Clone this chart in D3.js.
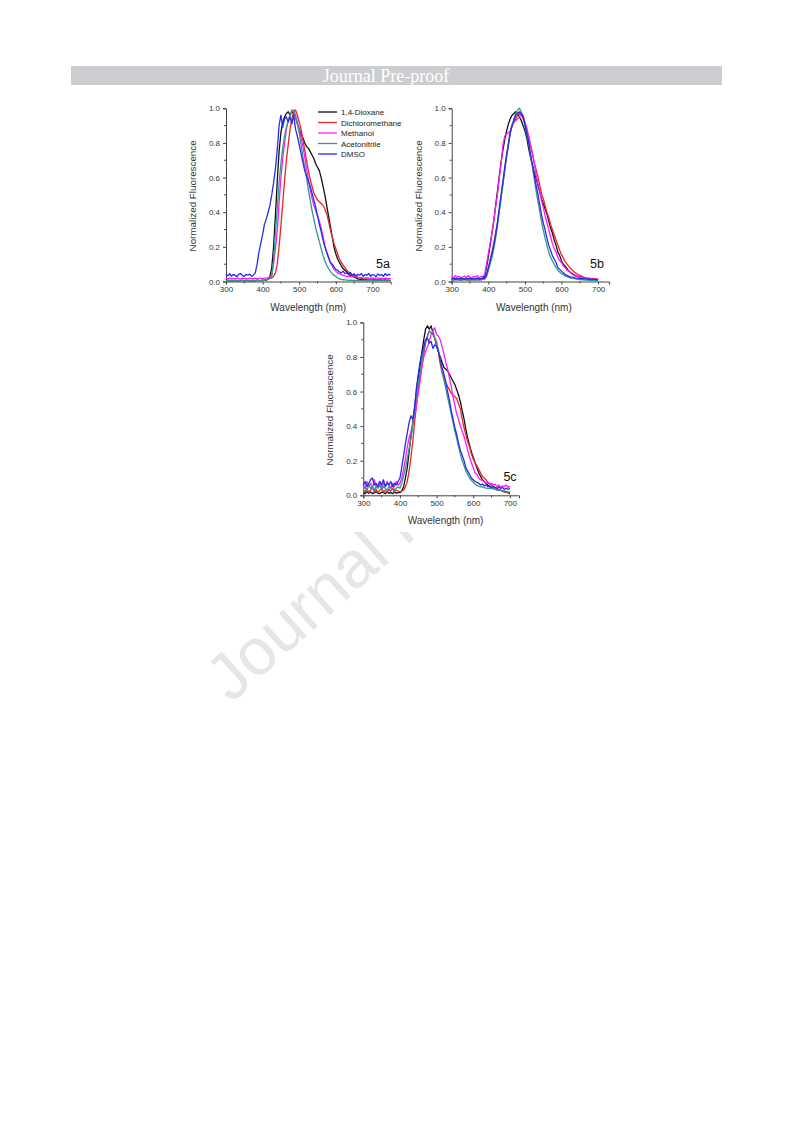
<!DOCTYPE html>
<html><head><meta charset="utf-8">
<script src="https://cdn.jsdelivr.net/npm/d3@7/dist/d3.min.js"></script>
<style>body{margin:0;background:#fff}svg{display:block}</style>
</head><body>
<svg id="c" width="793" height="1123"></svg>
<script>
// ---------------- DATA ----------------
const solvents = ["1,4-Dioxane","Dichloromethane","Methanol","Acetonitrile","DMSO"];
const panelLabels = ["5a","5b","5c"];
const xTicks = [300,400,500,600,700];
const yTicks = [0.0,0.2,0.4,0.6,0.8,1.0];
const xTitle = "Wavelength (nm)";
const yTitle = "Normalized Fluorescence";
const headerText = "Journal Pre-proof";

const wlA = d3.range(300, 755, 5);   // 300..750 nm
const wlBC = d3.range(300, 705, 5);  // 300..700 nm

// Panel 5a
const a_dioxane = [0.005,0.008,0.004,0.006,0.005,0.007,0.004,0.006,0.005,0.008,0.004,0.006,0.005,0.007,0.004,0.006,0.005,0.008,0.006,0.005,0.007,0.006,0.008,0.012,
 0.03,0.08,0.2,0.38,0.58,0.75,0.86,0.92,0.95,0.97,0.98,0.96,0.98,0.97,0.95,0.91,0.88,0.85,0.83,0.8,0.78,0.77,0.75,0.73,0.71,0.68,0.66,0.64,0.6,0.55,0.5,0.44,0.38,0.32,0.26,0.2,0.16,0.13,0.11,0.09,0.075,0.065,0.055,0.045,0.035,0.03,0.025,0.02,0.015,
 0.012,0.01,0.011,0.009,0.01,0.008,0.01,0.009,0.008,0.01,0.007,0.009,0.008,0.007,0.009,0.006,0.008,0.007];
const a_dcm = [0.005,0.004,0.006,0.005,0.004,0.006,0.005,0.004,0.006,0.005,0.004,0.006,0.005,0.004,0.006,0.005,0.004,0.006,0.005,0.006,0.008,0.01,0.012,0.015,0.018,0.02,
 0.03,0.05,0.1,0.2,0.32,0.45,0.58,0.7,0.79,0.88,0.94,0.98,0.99,0.96,0.92,0.88,0.82,0.76,0.7,0.64,0.59,0.55,0.51,0.49,0.47,0.46,0.45,0.44,0.42,0.39,0.35,0.3,0.26,0.22,0.19,0.16,0.13,0.11,0.095,0.08,0.065,0.055,0.047,0.04,0.035,0.03,0.025,0.02,
 0.018,0.015,0.016,0.014,0.015,0.013,0.012,0.013,0.011,0.01,0.011,0.009,0.008,0.009,0.007,0.006,0.005];
const a_methanol = [0.018,0.015,0.02,0.016,0.018,0.014,0.02,0.017,0.015,0.019,0.016,0.018,0.015,0.02,0.017,0.016,0.019,0.015,0.018,0.02,0.017,0.019,0.02,0.022,0.028,
 0.04,0.1,0.19,0.29,0.45,0.6,0.71,0.8,0.88,0.93,0.96,0.98,0.99,0.96,0.92,0.88,0.83,0.78,0.72,0.65,0.59,0.53,0.48,0.44,0.41,0.38,0.35,0.31,0.26,0.21,0.17,0.14,0.11,0.09,0.07,0.06,0.05,0.045,0.04,0.035,
 0.032,0.03,0.031,0.028,0.03,0.027,0.025,0.024,0.022,0.023,0.021,0.02,0.022,0.019,0.02,0.021,0.018,0.02,0.019,0.018,0.02,0.017,0.019,0.018,0.017,0.018];
const a_acetonitrile = [0.004,0.005,0.004,0.006,0.005,0.004,0.005,0.006,0.004,0.005,0.004,0.006,0.005,0.004,0.005,0.006,0.005,0.004,0.006,0.005,0.006,0.007,0.009,0.012,0.018,
 0.03,0.12,0.28,0.42,0.57,0.68,0.77,0.84,0.89,0.93,0.96,0.99,0.98,0.95,0.91,0.86,0.79,0.72,0.66,0.6,0.53,0.47,0.41,0.36,0.31,0.27,0.23,0.19,0.15,0.12,0.095,0.075,0.06,0.045,0.035,0.03,0.02,0.015,0.012,0.01,
 0.009,0.008,0.007,0.008,0.006,0.007,0.006,0.005,0.006,0.005,0.006,0.005,0.004,0.005,0.006,0.005,0.004,0.005,0.004,0.005,0.004,0.005,0.004,0.003,0.004,0.004];
const a_dmso = [0.04,0.033,0.045,0.03,0.04,0.035,0.028,0.042,0.046,0.034,0.03,0.041,0.036,0.043,0.03,0.038,
 0.05,0.1,0.17,0.22,0.27,0.33,0.36,0.4,0.44,0.5,0.57,0.65,0.76,0.9,0.96,0.89,0.94,0.95,0.92,0.95,0.91,0.96,0.88,0.84,0.79,0.74,0.69,0.64,0.61,0.58,0.55,0.51,0.47,0.43,0.38,0.33,0.29,0.24,0.2,0.17,0.14,0.11,0.1,0.085,0.07,0.065,0.055,0.05,
 0.06,0.045,0.05,0.04,0.052,0.035,0.045,0.03,0.042,0.036,0.046,0.03,0.04,0.035,0.047,0.03,0.04,0.036,0.028,0.044,0.035,0.04,0.03,0.046,0.034,0.041,0.038];

// Panel 5b
const b_dioxane = [0.015,0.01,0.018,0.012,0.015,0.01,0.016,0.012,0.014,0.01,0.017,0.012,0.015,0.011,0.016,0.013,0.015,0.02,
 0.03,0.08,0.14,0.21,0.28,0.35,0.44,0.52,0.61,0.69,0.76,0.82,0.87,0.91,0.94,0.96,0.97,0.98,0.97,0.95,0.93,0.9,0.87,0.83,0.77,0.72,0.68,0.63,0.6,0.56,0.52,0.48,0.45,0.42,0.39,0.35,0.31,0.28,0.24,0.21,0.17,0.15,0.12,0.1,0.088,0.075,0.06,0.052,0.045,0.038,0.033,0.03,0.027,0.025,0.02,
 0.018,0.016,0.015,0.013,0.012,0.011,0.01,0.01];
const b_dcm = [0.01,0.008,0.012,0.009,0.011,0.008,0.01,0.012,0.009,0.01,0.008,0.011,0.01,0.009,0.012,0.01,0.011,0.013,
 0.015,0.03,0.07,0.12,0.17,0.22,0.28,0.34,0.42,0.49,0.57,0.65,0.73,0.8,0.86,0.9,0.92,0.94,0.96,0.97,0.96,0.94,0.91,0.87,0.84,0.79,0.74,0.69,0.65,0.61,0.56,0.51,0.48,0.44,0.4,0.37,0.33,0.3,0.27,0.24,0.21,0.18,0.155,0.135,0.115,0.1,0.087,0.075,0.065,0.055,0.048,0.04,0.035,0.03,0.025,
 0.023,0.02,0.018,0.016,0.015,0.013,0.012,0.01];
const b_methanol = [0.03,0.02,0.035,0.025,0.03,0.02,0.025,0.032,0.02,0.035,0.025,0.02,0.03,0.025,0.035,0.02,0.03,0.028,
 0.04,0.1,0.16,0.22,0.28,0.35,0.43,0.5,0.6,0.68,0.79,0.84,0.85,0.86,0.87,0.91,0.92,0.93,0.94,0.95,0.97,0.96,0.92,0.89,0.84,0.79,0.75,0.69,0.62,0.57,0.53,0.47,0.43,0.38,0.34,0.3,0.26,0.22,0.19,0.17,0.14,0.12,0.11,0.09,0.08,0.065,0.06,0.05,0.04,0.035,0.03,0.028,0.025,0.022,0.02,
 0.02,0.018,0.02,0.016,0.018,0.015,0.016,0.014];
const b_acetonitrile = [0.01,0.008,0.011,0.009,0.01,0.008,0.01,0.011,0.009,0.01,0.008,0.01,0.009,0.011,0.01,0.008,0.01,0.012,
 0.015,0.03,0.06,0.1,0.14,0.19,0.25,0.32,0.4,0.48,0.56,0.64,0.72,0.79,0.86,0.9,0.94,0.97,0.99,1.0,0.98,0.95,0.9,0.85,0.8,0.73,0.67,0.6,0.53,0.47,0.41,0.35,0.3,0.25,0.21,0.17,0.14,0.12,0.1,0.08,0.065,0.055,0.045,0.04,0.032,0.028,0.024,0.02,0.018,0.016,0.014,0.012,0.011,0.01,0.009,
 0.008,0.008,0.007,0.007,0.006,0.006,0.005,0.005];
const b_dmso = [0.015,0.02,0.012,0.018,0.014,0.02,0.016,0.012,0.018,0.015,0.02,0.013,0.017,0.015,0.02,0.014,0.016,0.018,
 0.02,0.04,0.08,0.12,0.16,0.21,0.27,0.34,0.42,0.5,0.58,0.66,0.73,0.79,0.86,0.9,0.93,0.96,0.97,0.98,0.97,0.95,0.91,0.86,0.81,0.74,0.68,0.62,0.56,0.51,0.45,0.39,0.34,0.3,0.25,0.21,0.18,0.15,0.13,0.11,0.08,0.07,0.06,0.05,0.04,0.035,0.03,0.027,0.025,0.022,0.02,0.02,0.018,0.017,0.016,
 0.015,0.014,0.015,0.013,0.012,0.013,0.011,0.01];

// Panel 5c
const c_dioxane = [0.015,0.01,0.02,0.012,0.018,0.01,0.015,0.02,0.012,0.01,0.018,0.015,0.01,0.02,0.012,0.015,0.01,0.018,0.012,0.015,
 0.015,0.025,0.05,0.1,0.16,0.25,0.34,0.42,0.51,0.6,0.68,0.75,0.83,0.9,0.96,0.98,0.96,0.98,0.94,0.91,0.87,0.83,0.8,0.77,0.74,0.73,0.72,0.7,0.68,0.66,
 0.64,0.61,0.58,0.54,0.49,0.44,0.38,0.33,0.29,0.25,0.22,0.19,0.16,0.13,0.11,0.09,0.08,0.07,0.06,0.05,0.045,0.04,0.035,0.032,0.03,0.028,0.025,0.02,0.018,0.015,0.01];
const c_dcm = [0.03,0.02,0.04,0.015,0.03,0.045,0.02,0.035,0.015,0.03,0.04,0.02,0.03,0.015,0.035,0.025,0.04,0.02,0.03,0.025,
 0.02,0.025,0.03,0.05,0.08,0.14,0.22,0.31,0.42,0.52,0.61,0.69,0.76,0.82,0.88,0.92,0.95,0.94,0.93,0.91,0.87,0.83,0.76,0.71,0.67,0.65,0.63,0.61,0.59,0.58,
 0.57,0.56,0.53,0.5,0.44,0.39,0.35,0.31,0.28,0.24,0.21,0.19,0.17,0.15,0.13,0.11,0.1,0.09,0.075,0.068,0.06,0.05,0.045,0.04,0.035,0.03,0.025,0.02,0.02,0.015,0.015];
const c_methanol = [0.06,0.04,0.08,0.05,0.07,0.04,0.09,0.05,0.06,0.08,0.04,0.07,0.05,0.08,0.06,0.04,0.07,0.05,0.08,0.06,
 0.07,0.1,0.15,0.21,0.28,0.33,0.37,0.41,0.46,0.52,0.59,0.66,0.74,0.8,0.83,0.86,0.89,0.93,0.95,0.97,0.93,0.92,0.9,0.86,0.82,0.77,0.73,0.68,0.63,0.57,
 0.52,0.47,0.44,0.4,0.37,0.34,0.3,0.26,0.22,0.19,0.16,0.13,0.12,0.1,0.09,0.085,0.08,0.07,0.075,0.065,0.07,0.06,0.065,0.05,0.06,0.045,0.055,0.05,0.06,0.045,0.055];
const c_acetonitrile = [0.04,0.05,0.03,0.06,0.04,0.05,0.03,0.05,0.04,0.06,0.03,0.05,0.04,0.03,0.05,0.04,0.06,0.03,0.04,0.05,
 0.04,0.07,0.11,0.16,0.21,0.27,0.33,0.4,0.49,0.58,0.65,0.71,0.78,0.84,0.89,0.92,0.95,0.94,0.93,0.91,0.89,0.84,0.78,0.72,0.67,0.62,0.57,0.52,0.47,0.42,
 0.37,0.33,0.28,0.24,0.2,0.17,0.14,0.12,0.1,0.087,0.075,0.065,0.058,0.052,0.05,0.048,0.045,0.042,0.04,0.042,0.038,0.04,0.035,0.033,0.03,0.028,0.025,0.025,0.022,0.02,0.02];
const c_dmso = [0.06,0.08,0.05,0.07,0.09,0.1,0.06,0.07,0.05,0.08,0.06,0.09,0.05,0.07,0.06,0.08,0.05,0.07,0.06,0.08,
 0.1,0.16,0.23,0.3,0.36,0.42,0.46,0.44,0.5,0.62,0.7,0.77,0.82,0.86,0.9,0.91,0.88,0.89,0.85,0.87,0.86,0.83,0.78,0.74,0.7,0.66,0.6,0.55,0.49,0.44,
 0.39,0.35,0.3,0.26,0.23,0.2,0.16,0.14,0.12,0.1,0.09,0.08,0.075,0.07,0.06,0.065,0.055,0.06,0.05,0.055,0.045,0.05,0.045,0.04,0.05,0.04,0.045,0.035,0.04,0.035,0.04];

// ---------------- STYLE / LAYOUT ----------------
const colors = ["#111111","#e8262a","#ff1aff","#2a9d8a","#2a2aee"];
const FONT = "'Liberation Sans', Arial, Helvetica, sans-serif";

const panels = [
  {label: panelLabels[0], wl: wlA, series: [a_dioxane,a_dcm,a_methanol,a_acetonitrile,a_dmso],
   xd:[300,750], xr:[226,390.7], yr:[281.5,108.3], lab:[383,268], legend:true},
  {label: panelLabels[1], wl: wlBC, series: [b_dioxane,b_dcm,b_methanol,b_acetonitrile,b_dmso],
   xd:[300,730], xr:[451.7,609.1], yr:[281.5,108.3], lab:[597,268], legend:false},
  {label: panelLabels[2], wl: wlBC, series: [c_dioxane,c_dcm,c_methanol,c_acetonitrile,c_dmso],
   xd:[300,725], xr:[363.3,519.0], yr:[495.3,322.4], lab:[510,481], legend:false}
];

const svg = d3.select("#c");

// header bar
svg.append("rect").attr("x",71).attr("y",66).attr("width",651).attr("height",19).attr("fill","#cdcdd1");
svg.append("text").attr("x",386).attr("y",82).attr("text-anchor","middle")
  .attr("font-family","'Liberation Serif','Times New Roman',serif").attr("font-size",18)
  .attr("fill","#ffffff").text(headerText);

// watermark (behind figure image)
svg.append("text").attr("transform","translate(231,704) rotate(-42)")
  .attr("font-family",FONT).attr("font-size",66).attr("fill","#e6e6e6").text(headerText);
// figure image background
svg.append("rect").attr("x",180).attr("y",96).attr("width",446).attr("height",436).attr("fill","#fff");

panels.forEach(p => {
  const x = d3.scaleLinear().domain(p.xd).range(p.xr);
  const y = d3.scaleLinear().domain([0,1]).range(p.yr);
  const g = svg.append("g");

  // axes
  const xAxis = d3.axisBottom(x).tickValues(xTicks).tickSize(3).tickPadding(2).tickFormat(d3.format("d"));
  const yAxis = d3.axisLeft(y).tickValues(yTicks).tickSize(3).tickPadding(3).tickFormat(d3.format(".1f"));
  const gx = g.append("g").attr("transform",`translate(0,${p.yr[0]})`).call(xAxis);
  const gy = g.append("g").attr("transform",`translate(${p.xr[0]},0)`).call(yAxis);
  // minor ticks
  const xMinor = xTicks.map(v => v + 50).filter(v => v < p.xd[1]);
  gx.selectAll(".minor").data(xMinor).enter().append("line").attr("class","minor")
    .attr("x1",d=>x(d)).attr("x2",d=>x(d)).attr("y1",0).attr("y2",2).attr("stroke","#444");
  const yMinor = yTicks.slice(0,-1).map(v => v + 0.1);
  gy.selectAll(".minor").data(yMinor).enter().append("line").attr("class","minor")
    .attr("y1",d=>y(d)).attr("y2",d=>y(d)).attr("x1",0).attr("x2",-2).attr("stroke","#444");
  [gx,gy].forEach(a => {
    a.select(".domain").attr("stroke","#444").attr("stroke-width",1);
    a.selectAll(".tick line").attr("stroke","#444");
    a.selectAll("text").attr("font-family",FONT).attr("font-size",8).attr("fill","#333");
  });

  // axis titles
  g.append("text").attr("x", p.xr[0] + (x(700)-p.xr[0])/2 + 9).attr("y",p.yr[0]+29)
    .attr("text-anchor","middle").attr("font-family",FONT).attr("font-size",10).attr("fill","#333").text(xTitle);
  g.append("text").attr("transform",`translate(${p.xr[0]-30},${(p.yr[0]+p.yr[1])/2 + 1}) rotate(-90)`)
    .attr("text-anchor","middle").attr("font-family",FONT).attr("font-size",9.8).attr("fill","#333").text(yTitle);

  // lines
  const line = d3.line().x((d,i)=>x(p.wl[i])).y(d=>y(d));
  p.series.forEach((s,k) => {
    g.append("path").datum(s).attr("d",line).attr("fill","none")
      .attr("stroke",colors[k]).attr("stroke-width",1.3).attr("stroke-linejoin","round");
  });

  // panel label
  g.append("text").attr("x",p.lab[0]).attr("y",p.lab[1]).attr("text-anchor","middle")
    .attr("font-family",FONT).attr("font-size",12.5).attr("fill","#111").text(p.label);

  // legend
  if (p.legend) {
    const lg = g.append("g");
    solvents.forEach((name,k) => {
      const yy = 112 + k*10.5;
      lg.append("line").attr("x1",318).attr("x2",337).attr("y1",yy).attr("y2",yy)
        .attr("stroke",colors[k]).attr("stroke-width",1.3);
      lg.append("text").attr("x",341).attr("y",yy+3).attr("font-family",FONT).attr("font-size",8)
        .attr("fill","#222").text(name);
    });
  }
});
</script>
</body></html>
